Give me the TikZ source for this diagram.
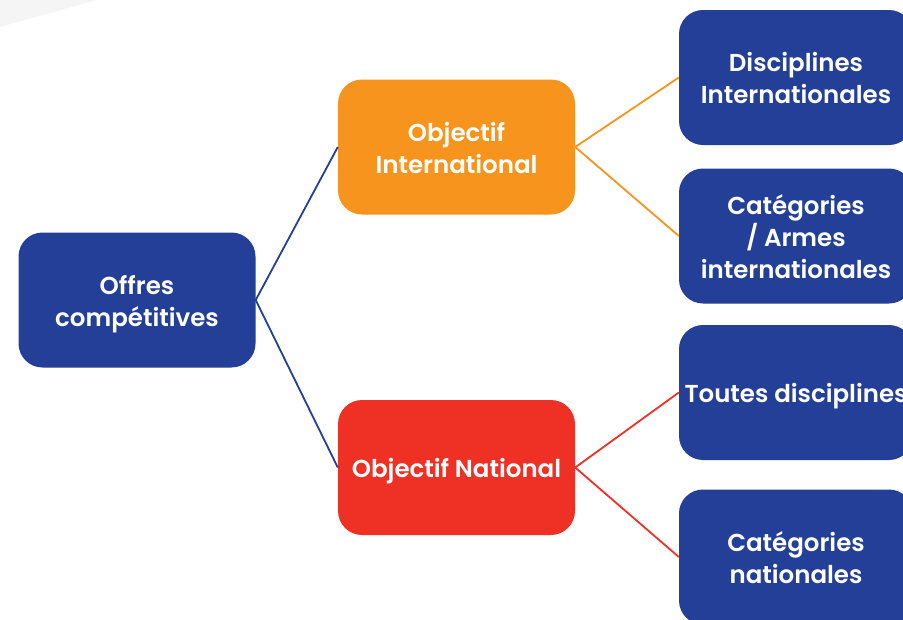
\documentclass[tikz,border=0pt]{standalone}
\usepackage{fontspec}
\setmainfont{Poppins}[BoldFont={* SemiBold}]
\definecolor{cblue}{HTML}{233F98}
\definecolor{corange}{HTML}{F7941D}
\definecolor{cred}{HTML}{EE3124}
\definecolor{cgray}{HTML}{F5F5F5}
\newcommand\boxtxt[1]{\raisebox{-4pt}[\height][\depth]{\begin{tabular}{@{}c@{}}#1\end{tabular}}}
\begin{document}
\begin{tikzpicture}[x=1pt,y=-1pt,
  box/.style={rounded corners=24pt, draw=none, text=white, align=center,
    font=\fontsize{24.5}{32}\selectfont\bfseries, inner sep=0pt},
  bluebox/.style={box, fill=cblue},
  link/.style={line width=1.8pt}]
\useasboundingbox (0,0) rectangle (903,619);
\begin{scope}
\clip (0,0) rectangle (903,619);
\fill[cgray] (0,0) -- (97,0) -- (0,27) -- cycle;
\node[bluebox, minimum width=237pt, minimum height=135pt] (offres) at (137,300) {\boxtxt{Offres\\compétitives}};
\node[box, fill=corange, minimum width=237pt, minimum height=135pt] (inter) at (456.5,147) {\boxtxt{Objectif\\International}};
\node[box, fill=cred, minimum width=237pt, minimum height=135pt] (nat) at (456.5,467.5) {\boxtxt{Objectif National}};
\node[bluebox, minimum width=234pt, minimum height=135pt] (d1) at (796,77.5) {\boxtxt{Disciplines\\Internationales}};
\node[bluebox, minimum width=234pt, minimum height=135pt] (d2) at (796,236) {\boxtxt{Catégories\\/ Armes\\internationales}};
\node[bluebox, minimum width=234pt, minimum height=135pt] (d3) at (796,392.5) {\boxtxt{Toutes disciplines}};
\node[bluebox, minimum width=234pt, minimum height=135pt] (d4) at (796,557) {\boxtxt{Catégories\\nationales}};
\draw[link, cblue] (offres.east) -- (inter.west);
\draw[link, cblue] (offres.east) -- (nat.west);
\draw[link, corange] (inter.east) -- (d1.west);
\draw[link, corange] (inter.east) -- (d2.west);
\draw[link, cred] (nat.east) -- (d3.west);
\draw[link, cred] (nat.east) -- (d4.west);
\end{scope}
\end{tikzpicture}
\end{document}
